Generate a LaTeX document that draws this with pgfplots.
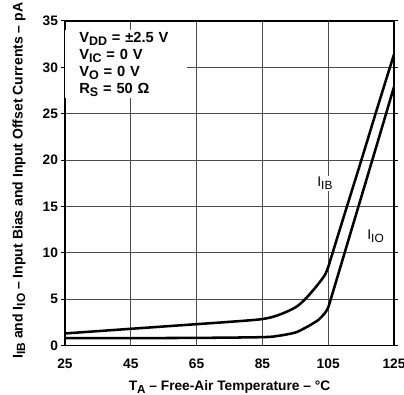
\documentclass[border=0pt]{standalone}
\usepackage{pgfplots}
\pgfplotsset{compat=1.18}
\usepackage{fontspec}
\setmainfont{Liberation Sans}
\newcommand{\sub}[1]{\raisebox{-0.35ex}{\scalebox{0.85}{#1}}}
\begin{document}
\begin{tikzpicture}
\begin{axis}[
  scale only axis,
  width=246.75pt, height=243.4pt,
  xmin=25, xmax=125, ymin=0, ymax=35,
  xtick={25,45,65,85,105,125},
  ytick={0,5,10,15,20,25,30,35},
  grid=major,
  major grid style={line width=0.7pt, black!70},
  axis line style={line width=1.2pt},
  tick align=outside,
  xtick style={draw=none},
  ytick style={line width=0.8pt, black},
  major tick length=3pt,
  /pgf/number format/assume math mode=true,
  tick label style={font=\fontsize{10.3}{12}\selectfont\bfseries},
  xticklabel style={yshift=-3.5pt},
  yticklabel style={xshift=1.3pt},
  xlabel={T\sub{A} – Free-Air Temperature – °C},
  ylabel={I\sub{IB} and I\sub{IO} – Input Bias and Input Offset Currents – pA},
  xlabel style={font=\fontsize{10.3}{12}\selectfont\bfseries, at={(axis description cs:0.5,-0.128)}, anchor=center},
  ylabel style={font=\fontsize{10.5}{13}\selectfont\bfseries, at={(axis description cs:-0.14,0.508)}, anchor=center, rotate=0},
  clip=true,
]
\addplot[line width=1.9pt, black, smooth, tension=0.5] coordinates {
(25,1.3)(35,1.55)(45,1.8)(55,2.05)(65,2.3)(75,2.55)(85,2.85)(90,3.3)(95,4.1)(98,5.0)(101,6.2)(103,7.1)(104,7.6)(105,8.45)(106,9.6)(110,14.2)(115,19.9)(120,25.7)(125,31.4)
};
\addplot[line width=1.9pt, black, smooth, tension=0.5] coordinates {
(25,0.8)(45,0.8)(65,0.82)(85,0.9)(90,1.05)(95,1.4)(98,1.9)(100,2.3)(102,2.75)(103,3.1)(104,3.5)(105,4.1)(106,5.25)(110,10.0)(115,15.95)(120,21.9)(125,27.9)
};
\node[fill=white, anchor=north west, align=left, text width=70.5pt, inner xsep=10.5pt, inner ysep=1.5pt,
  font=\fontsize{11}{12.75}\selectfont\bfseries] at ([yshift=-6.75pt]rel axis cs:0,1)
  {V\sub{DD} = ±2.5 V\\ V\sub{IC} = 0 V\\ V\sub{O} = 0 V\\ R\sub{S} = 50 Ω};
\node[fill=white, inner sep=1pt, font=\fontsize{10.5}{12}\selectfont] at (axis cs:104,17.5) {I\sub{IB}};
\node[fill=white, inner sep=1pt, font=\fontsize{10.5}{12}\selectfont] at (axis cs:119.4,11.8) {I\sub{IO}};
\end{axis}
\pgfresetboundingbox
\path[use as bounding box] (-48.75pt,-37.125pt) rectangle (254.25pt,259.125pt);
\end{tikzpicture}
\end{document}
